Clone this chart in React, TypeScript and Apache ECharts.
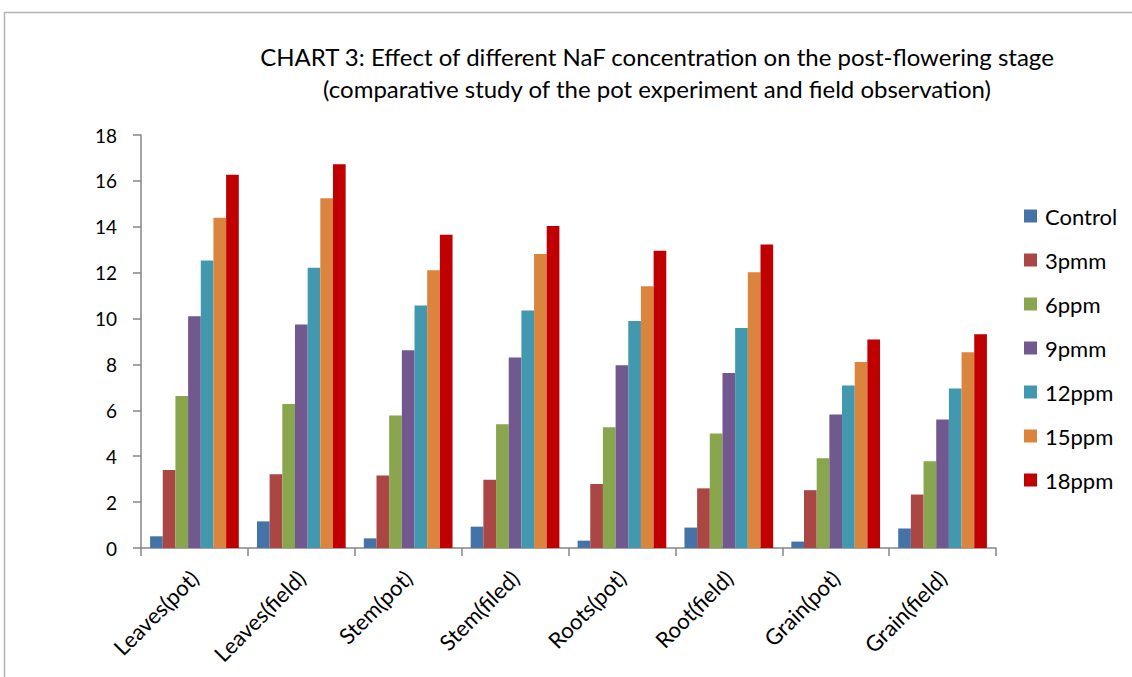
import React, { useEffect, useRef } from "react";
import * as echarts from "echarts";

const categories = [
  "Leaves(pot)",
  "Leaves(field)",
  "Stem(pot)",
  "Stem(filed)",
  "Roots(pot)",
  "Root(field)",
  "Grain(pot)",
  "Grain(field)",
];

const seriesNames = ["Control", "3pmm", "6ppm", "9pmm", "12ppm", "15ppm", "18ppm"];
const seriesColors = ["#4572A7", "#AA4643", "#89A54E", "#71588F", "#4198AF", "#DB843D", "#C00000"];

const control = [0.51, 1.16, 0.42, 0.93, 0.32, 0.89, 0.28, 0.85];
const p3 = [3.4, 3.21, 3.16, 2.98, 2.79, 2.6, 2.52, 2.33];
const p6 = [6.62, 6.28, 5.77, 5.39, 5.26, 4.99, 3.91, 3.78];
const p9 = [10.1, 9.74, 8.62, 8.3, 7.97, 7.63, 5.82, 5.6];
const p12 = [12.53, 12.21, 10.57, 10.35, 9.89, 9.59, 7.08, 6.95];
const p15 = [14.39, 15.24, 12.11, 12.81, 11.41, 12.02, 8.11, 8.53];
const p18 = [16.27, 16.73, 13.65, 14.03, 12.95, 13.23, 9.09, 9.32];

const seriesValues = [control, p3, p6, p9, p12, p15, p18];

const titleLines = [
  "CHART 3: Effect of different NaF concentration on the post-flowering stage",
  "(comparative study of the pot experiment and field observation)",
];

const FONT = "Lato";

export default function App() {
  const ref = useRef<HTMLDivElement>(null);
  useEffect(() => {
    if (!ref.current) return;
    const chart = echarts.init(ref.current, undefined, { renderer: "svg" });
    chart.setOption({
      animation: false,
      backgroundColor: "#ffffff",
      textStyle: { fontFamily: FONT },
      title: {
        text: titleLines.join("\n"),
        left: 652,
        textAlign: "center",
        top: 35,
        textStyle: {
          fontFamily: FONT,
          fontSize: 24,
          fontWeight: "normal",
          color: "#000000",
          lineHeight: 32,
        },
      },
      graphic: [
        {
          type: "polyline",
          shape: { points: [[4.5, 700], [4.5, 12.5], [1140, 12.5]] },
          style: { stroke: "#b3b3b3", lineWidth: 1.5, fill: "none" },
          silent: true,
        },
      ],
      legend: {
        orient: "vertical",
        left: 1024,
        top: 205,
        padding: 0,
        itemWidth: 13,
        itemHeight: 13,
        itemGap: 22,
        icon: "rect",
        textStyle: { fontFamily: FONT, fontSize: 22, color: "#000000", padding: [0, 0, 0, 3] },
        data: seriesNames,
      },
      grid: {
        left: 141,
        right: 136,
        top: 135,
        bottom: 129,
        containLabel: false,
      },
      xAxis: {
        type: "category",
        data: categories,
        boundaryGap: true,
        axisLine: { lineStyle: { color: "#868686", width: 1.5 } },
        axisTick: { show: true, length: 8, alignWithLabel: false, lineStyle: { color: "#868686", width: 1.5 } },
        axisLabel: {
          rotate: 45,
          interval: 0,
          fontFamily: FONT,
          fontSize: 22,
          color: "#000000",
          margin: 26,
        },
        splitLine: { show: false },
      },
      yAxis: {
        type: "value",
        min: 0,
        max: 18,
        interval: 2,
        axisLine: { show: true, lineStyle: { color: "#868686", width: 1.5 } },
        axisTick: { show: true, length: 8, lineStyle: { color: "#868686", width: 1.5 } },
        axisLabel: { fontFamily: FONT, fontSize: 19, color: "#000000", margin: 24 },
        splitLine: { show: false },
      },
      series: seriesNames.map((name, i) => ({
        name,
        type: "bar",
        data: seriesValues[i],
        barGap: "0%",
        barCategoryGap: "17%",
        itemStyle: { color: seriesColors[i] },
      })),
    });
    return () => chart.dispose();
  }, []);
  return (
    <div
      ref={ref}
      style={{ position: "absolute", left: 0, top: 0, width: 1132, height: 677 }}
    />
  );
}
